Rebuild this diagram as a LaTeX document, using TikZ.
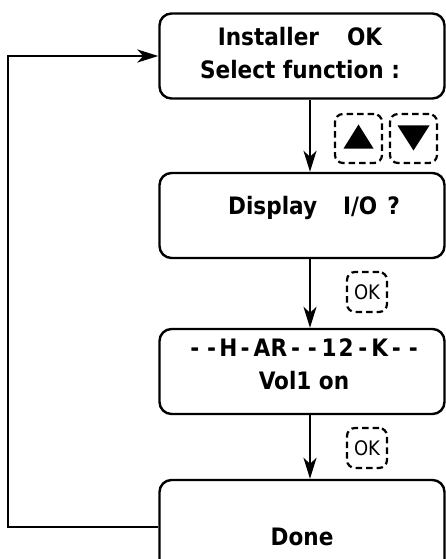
\documentclass[tikz,border=0pt]{standalone}
\usepackage{fontspec}
\setmainfont{DejaVu Sans Condensed}
\usetikzlibrary{arrows.meta}
\tikzset{
  panel/.style = {draw, line width=2.4pt, rounded corners=12pt, minimum width=285pt, minimum height=85pt},
  screen/.style = {font=\fontsize{24}{33}\selectfont\bfseries, align=center, inner sep=0pt},
  key/.style = {draw, dash pattern=on 6.5pt off 4pt, line width=2.2pt, rounded corners=8pt, inner sep=0pt},
  flow/.style = {line width=2.2pt, -{Stealth[length=21pt,width=13pt,inset=6pt]}}
}
\newcommand{\lcdchar}[1]{\makebox[16.8pt]{#1}}
\begin{document}
\begin{tikzpicture}[x=1pt, y=-1pt]
  \useasboundingbox (0,0) rectangle (446,559);
  \clip (0,0) rectangle (446,559);
  % screens
  \node[panel] (menu) at (302,56) {};
  \node[panel] (io) at (302,215.5) {};
  \node[panel] (har) at (302,371.5) {};
  \node[panel, minimum height=94pt] (done) at (302,527) {};
  \node[screen] (menutext) at (300,53.5) {Installer\hspace{28pt}OK\\Select function :};
  \node[screen] (iotext) at (314,208) {Display\hspace{26pt}I/O\hspace{10pt}?};
  \node[screen] (hartext) at (304,364.5) {\lcdchar{-}\lcdchar{-}\lcdchar{H}\lcdchar{-}\lcdchar{A}\lcdchar{R}\lcdchar{-}\lcdchar{-}\lcdchar{1}\lcdchar{2}\lcdchar{-}\lcdchar{K}\lcdchar{-}\lcdchar{-}\\Vol1 on};
  \node[screen] (donetext) at (302,537) {Done};
  % keys
  \node[key, minimum width=47pt, minimum height=49pt] (up) at (358.5,138.5) {};
  \node[key, minimum width=47pt, minimum height=49pt] (down) at (413.5,138.5) {};
  \fill[shift={(up.center)}] (-15,10) -- (15,10) -- (0,-14) -- cycle;
  \fill[shift={(down.center)}] (-16,-13) -- (16,-13) -- (0,12) -- cycle;
  \node[key, minimum size=40pt, font=\fontsize{20}{20}\selectfont] (ok1) at (367,292) {OK};
  \node[key, minimum size=40pt, font=\fontsize{20}{20}\selectfont] (ok2) at (367,448) {OK};
  % arrows
  \coordinate (spine) at (310,0);
  \coordinate (back) at (8,0);
  \draw[flow] (menu.south -| spine) -- (io.north -| spine);
  \draw[flow] (io.south -| spine) -- (har.north -| spine);
  \draw[flow] (har.south -| spine) -- (done.north -| spine);
  \draw[flow] (done.west) -- (done.west -| back) |- (menu.west);
\end{tikzpicture}
\end{document}
